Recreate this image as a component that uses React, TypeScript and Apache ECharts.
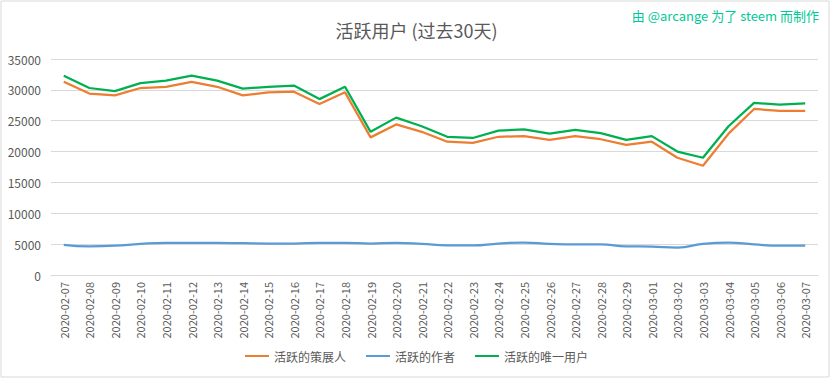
import React, { useEffect, useRef } from "react";
import * as echarts from "echarts";

const categories = [
  "2020-02-07","2020-02-08","2020-02-09","2020-02-10","2020-02-11","2020-02-12","2020-02-13",
  "2020-02-14","2020-02-15","2020-02-16","2020-02-17","2020-02-18","2020-02-19","2020-02-20",
  "2020-02-21","2020-02-22","2020-02-23","2020-02-24","2020-02-25","2020-02-26","2020-02-27",
  "2020-02-28","2020-02-29","2020-03-01","2020-03-02","2020-03-03","2020-03-04","2020-03-05",
  "2020-03-06","2020-03-07",
];

const curators = [
  31300, 29400, 29100, 30300, 30500, 31300, 30500, 29100, 29600, 29700,
  27700, 29600, 22300, 24400, 23200, 21600, 21400, 22400, 22500, 21900,
  22500, 22000, 21100, 21600, 19000, 17700, 22900, 26900, 26600, 26600,
];

const authors = [
  4900, 4650, 4750, 5050, 5200, 5200, 5200, 5150, 5100, 5100,
  5200, 5200, 5100, 5200, 5050, 4800, 4800, 5100, 5250, 5050,
  4950, 4950, 4650, 4600, 4450, 5050, 5250, 4950, 4750, 4750,
];

const uniqueUsers = [
  32300, 30300, 29800, 31100, 31500, 32300, 31500, 30200, 30500, 30700,
  28500, 30500, 23200, 25500, 24100, 22400, 22200, 23400, 23600, 22900,
  23500, 23000, 21900, 22500, 20000, 19000, 24100, 27900, 27600, 27800,
];

const seriesNames = ["活跃的策展人", "活跃的作者", "活跃的唯一用户"];
const titleText = "活跃用户 (过去30天)";
const creditText = "由 @arcange 为了 steem 而制作";

const FONT = "'Noto Sans CJK SC', 'Noto Sans', sans-serif";

export default function App() {
  const ref = useRef<HTMLDivElement>(null);
  useEffect(() => {
    document.body.style.margin = "0";
    if (!ref.current) return;
    const chart = echarts.init(ref.current, undefined, { renderer: "svg" });
    chart.setOption({
      animation: false,
      backgroundColor: "#ffffff",
      textStyle: { fontFamily: FONT },
      title: {
        text: titleText,
        left: "center",
        top: 16,
        textStyle: { fontFamily: FONT, fontSize: 18, fontWeight: "normal", color: "#595959" },
      },
      graphic: [
        {
          type: "rect",
          shape: { x: 1, y: 1, width: 828, height: 376 },
          style: { fill: "none", stroke: "#d9d9d9", lineWidth: 1 },
          silent: true,
        },
        {
          type: "text",
          right: 14,
          top: 9,
          style: { text: creditText, fill: "#00c896", font: `13px ${FONT}` },
        },
      ],
      legend: {
        bottom: 12,
        left: "center",
        icon: "rect",
        itemWidth: 24,
        itemHeight: 2,
        itemGap: 20,
        textStyle: { fontFamily: FONT, fontSize: 12, color: "#595959" },
        data: seriesNames,
      },
      grid: { left: 51, right: 15, top: 59, bottom: 104, containLabel: false },
      xAxis: {
        type: "category",
        data: categories,
        boundaryGap: true,
        axisLine: { show: true, lineStyle: { color: "#d9d9d9" } },
        axisTick: { show: false },
        axisLabel: { rotate: 90, color: "#595959", fontSize: 11, margin: 7, fontFamily: FONT },
      },
      yAxis: {
        type: "value",
        min: 0,
        max: 35000,
        interval: 5000,
        axisLine: { show: false },
        axisTick: { show: false },
        axisLabel: {
          color: "#595959",
          fontSize: 12,
          margin: 10,
          fontFamily: FONT,
          formatter: (v: number) => String(v),
        },
        splitLine: { lineStyle: { color: "#d9d9d9", width: 1 } },
      },
      series: [
        {
          name: seriesNames[0],
          type: "line",
          data: curators,
          symbol: "none",
          lineStyle: { color: "#ED7D31", width: 2.25 },
          itemStyle: { color: "#ED7D31" },
        },
        {
          name: seriesNames[1],
          type: "line",
          data: authors,
          symbol: "none",
          smooth: 0.5,
          lineStyle: { color: "#5B9BD5", width: 2.25 },
          itemStyle: { color: "#5B9BD5" },
        },
        {
          name: seriesNames[2],
          type: "line",
          data: uniqueUsers,
          symbol: "none",
          lineStyle: { color: "#00B050", width: 2.25 },
          itemStyle: { color: "#00B050" },
        },
      ],
    });
    return () => chart.dispose();
  }, []);
  return <div ref={ref} style={{ width: 833, height: 379 }} />;
}
